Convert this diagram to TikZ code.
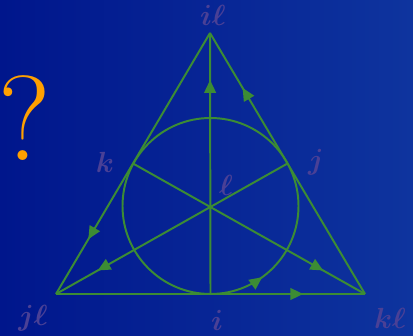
\documentclass[tikz,border=0pt]{standalone}
\usepackage{amsmath,amssymb,bm}
\usepackage{tikz}
\usetikzlibrary{arrows.meta,decorations.markings,calc}
\definecolor{bgleft}{RGB}{0,22,140}
\definecolor{bgright}{RGB}{14,52,158}
\definecolor{fanogreen}{RGB}{60,140,52}
\definecolor{labelblue}{RGB}{74,64,150}
\definecolor{qorange}{RGB}{255,160,0}
\tikzset{
  fl/.style={color=fanogreen,line width=1.4pt},
  mid/.style={fl,postaction={decorate},
              decoration={markings,mark=at position #1 with {\arrow{Triangle[length=3.2mm,width=2.9mm]}}}},
  lbl/.style={text=labelblue,font=\huge,inner sep=0pt},
}

\begin{document}
\begin{tikzpicture}[x=0.025cm,y=0.025cm]
  % ── background panel (fixes the size) ──
  \useasboundingbox (0,0) rectangle (413,335);
  \shade[left color=bgleft,right color=bgright] (0,0) rectangle (413,335);
  % ── triangle corners, centre and side points ──
  \coordinate (top) at (210,302);
  \coordinate (bl)  at (56,41);
  \coordinate (br)  at (365,41);
  \coordinate (c)   at (210,129);
  \coordinate (mi)  at ($(bl)!0.5!(br)$);
  \coordinate (mj)  at ($(br)!0.5!(top)$);
  \coordinate (mk)  at ($(bl)!0.5!(top)$);
  % ── labels ──
  \node[lbl] (nil) at (213,320) {$\bm{i\ell}$};
  \node[lbl] (nk)  at (105,173) {$\bm{k}$};
  \node[lbl] (nj)  at (316,173) {$\bm{j}$};
  \node[lbl] (nl)  at (226,150) {$\bm{\ell}$};
  \node[lbl] (njl) at (33,17)   {$\bm{j\ell}$};
  \node[lbl] (ni)  at (217,15)  {$\bm{i}$};
  \node[lbl] (nkl) at (390,17)  {$\bm{k\ell}$};
  \node[text=qorange,inner sep=0pt,font=\fontsize{86}{86}\selectfont] (nq) at (25,217) {?};
  % ── sides ──
  \draw[mid=0.8]  (bl) -- (br);
  \draw[mid=0.79] (top) -- (bl);
  \draw[mid=0.79] (br) -- (top);
  % ── medians through the centre ──
  \draw[mid=0.82] (mi) -- (top);
  \draw[mid=0.82] (mk) -- (br);
  \draw[mid=0.82] (mj) -- (bl);
  % inscribed circle, counter-clockwise from the bottom
  \draw[mid=0.1] (mi) arc[start angle=-90,end angle=270,radius=88];
\end{tikzpicture}
\end{document}
